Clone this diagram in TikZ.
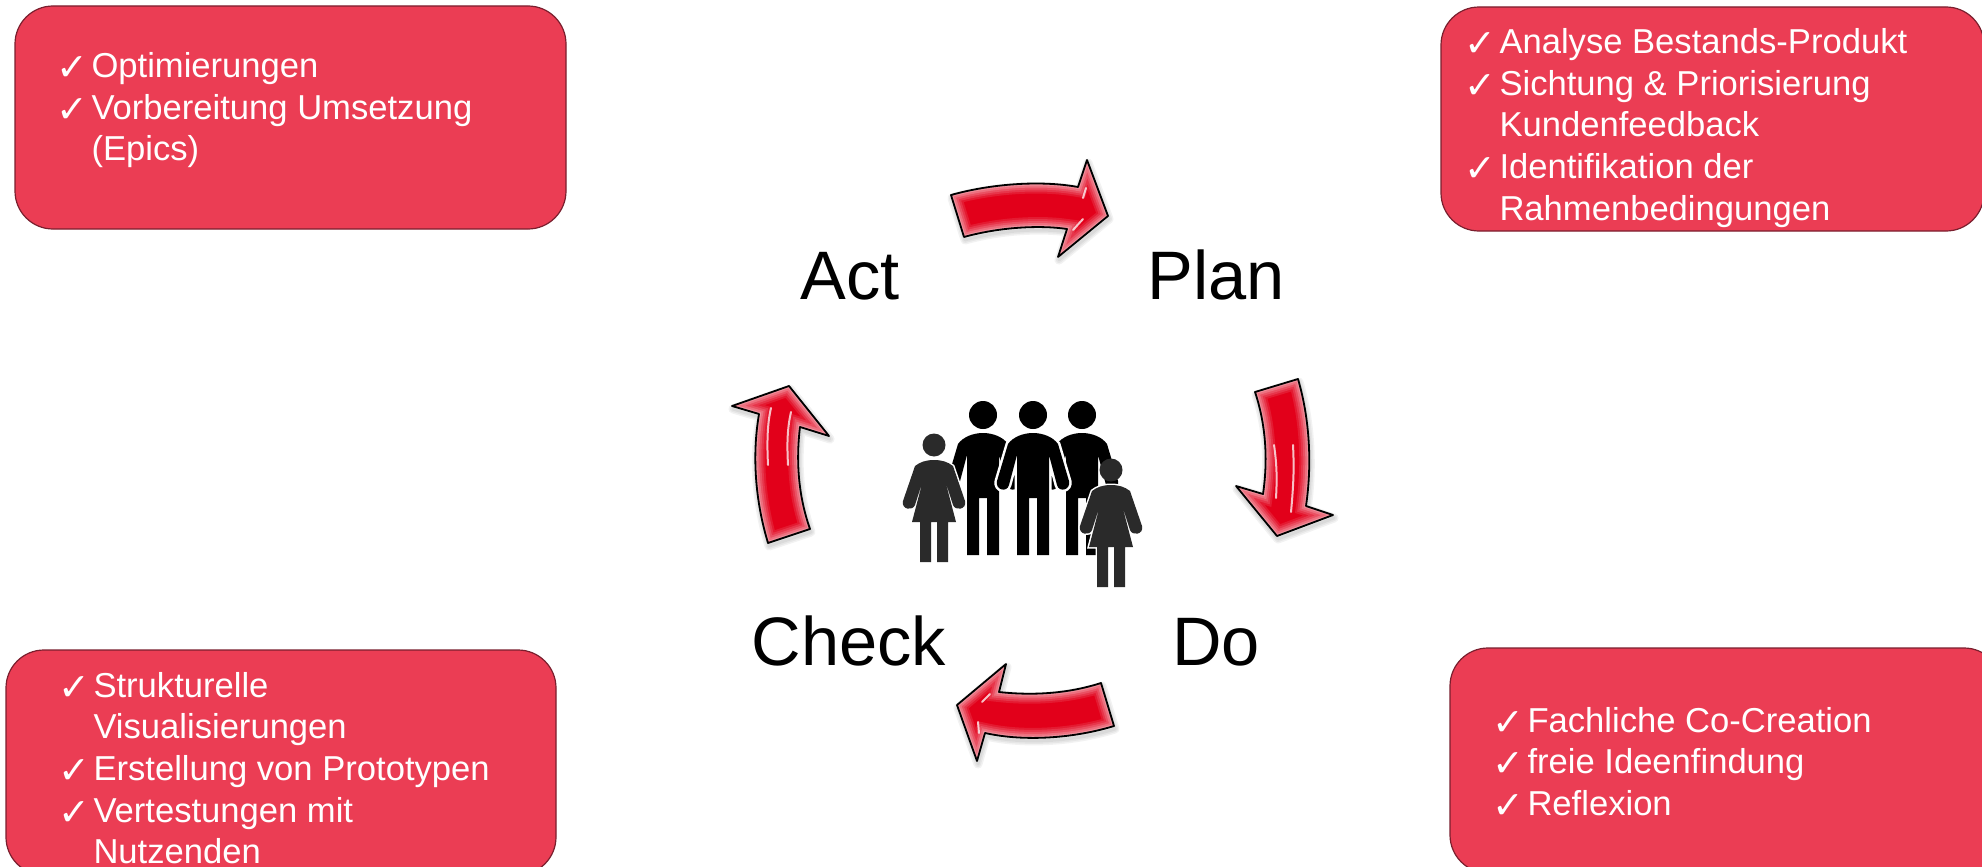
\documentclass[tikz,border=0pt]{standalone}
\usepackage{fontspec}
\setmainfont{Liberation Sans}
\newfontfamily\chkfont{DejaVu Sans}
\newcommand{\chkitem}[1]{\makebox[34.5pt][l]{\hspace*{-1pt}\smash{\raisebox{-3pt}{\chkfont\fontsize{38}{38}\selectfont ✓}}}#1}
\newcommand{\chkcont}[1]{\hspace*{34.5pt}#1}
\definecolor{boxred}{HTML}{EB3D54}
\definecolor{boxline}{HTML}{7A1F2E}
\definecolor{arrowred}{HTML}{E2001A}
\definecolor{womangray}{HTML}{2A2A2A}
\newcommand{\glossarrow}[2]{
  \foreach \w in {9,6,3} {
    \draw[black,opacity=.05,line width=\w pt,line join=round,shift={(1,3)}] #1;
  }
  \fill[arrowred] #1;
  \begin{scope}
    \clip #1;
    \foreach \w/\o in {20/.10,16/.12,12/.14,8/.18,4/.22} {
      \draw[white,opacity=\o,line width=\w pt] #1;
    }
    #2
  \end{scope}
  \draw[black,line width=1.8pt,line join=round] #1;
}
\tikzset{
  redbox/.style={draw=boxline,fill=boxred,line width=1.2pt,rounded corners=38pt,
    anchor=north west,inner sep=0pt,outer sep=0pt},
  boxtext/.style={anchor=north west,align=left,inner sep=0pt,outer sep=0pt,text=white,
    font=\fontsize{34.6}{41.7}\selectfont},
  phase/.style={anchor=base,inner sep=0pt,outer sep=0pt,font=\fontsize{68.6}{78}\selectfont},
  streak/.style={white,opacity=.75,line width=2pt,line cap=round},
  man/.pic={
    \fill (0,0) circle [radius=14];
    \fill[black,preaction={draw=white,line width=5pt}] (0,18) .. controls (10,18) and (20,22) .. (25,29)
      -- (36,66) .. controls (38,75) and (26,78) .. (24,70) -- (16,40) -- (16,140) -- (4,140)
      -- (4,83) -- (-4,83) -- (-4,140) -- (-16,140) -- (-16,40) -- (-24,70)
      .. controls (-26,78) and (-38,75) .. (-36,66) -- (-25,29)
      .. controls (-20,22) and (-10,18) .. (0,18) -- cycle;
  },
  woman/.pic={
    \fill[womangray,preaction={draw=white,line width=3pt}] (0,15) .. controls (8,15) and (14,17) .. (19,21)
      -- (31,56) .. controls (33,65) and (21,66) .. (19,60) -- (11,35) -- (22,77) -- (14,77) -- (14,117)
      -- (3,117) -- (3,77) -- (-3,77) -- (-3,117) -- (-14,117) -- (-14,77) -- (-22,77) -- (-11,35)
      -- (-19,60) .. controls (-21,66) and (-33,65) .. (-31,56) -- (-19,21)
      .. controls (-14,17) and (-8,15) .. (0,15) -- cycle;
    \fill[womangray] (0,0) circle [radius=11.5];
  },
}
\begin{document}
\begin{tikzpicture}[x=1pt,y=-1pt]
  \clip (0,0) rectangle (1982,867);
  % boxes
  \node[redbox,minimum width=551pt,minimum height=223pt] (actbox) at (15,6) {};
  \node[redbox,minimum width=543pt,minimum height=224pt] (planbox) at (1441,7) {};
  \node[redbox,minimum width=550pt,minimum height=225pt] (checkbox) at (6,650) {};
  \node[redbox,minimum width=552pt,minimum height=225pt] (dobox) at (1450,648) {};
  \node[boxtext] (acttext) at (57,52.5) {\chkitem{Optimierungen}\\\chkitem{Vorbereitung Umsetzung}\\\chkcont{(Epics)}};
  \node[boxtext] (plantext) at (1465,28.5) {\chkitem{Analyse Bestands-Produkt}\\\chkitem{Sichtung \& Priorisierung}\\\chkcont{Kundenfeedback}\\\chkitem{Identifikation der}\\\chkcont{Rahmenbedingungen}};
  \node[boxtext] (checktext) at (59,672) {\chkitem{Strukturelle}\\\chkcont{Visualisierungen}\\\chkitem{Erstellung von Prototypen}\\\chkitem{Vertestungen mit}\\\chkcont{Nutzenden}};
  \node[boxtext] (dotext) at (1493,707) {\chkitem{Fachliche Co-Creation}\\\chkitem{freie Ideenfindung}\\\chkitem{Reflexion}};
  % phases
  \node[phase] (act) at (850,299) {Act};
  \node[phase] (plan) at (1216,299) {Plan};
  \node[phase] (check) at (849,665) {Check};
  \node[phase] (do) at (1216,665) {Do};
  % arrows
  \glossarrow{(951,195) .. controls (990,184) and (1040,180) .. (1078,187) -- (1087,160) -- (1108,216)
    -- (1058,257) -- (1067,229) .. controls (1040,225) and (1000,227) .. (964,237) -- cycle}{
    \draw[streak] (1086,188) -- (1083,198);
    \draw[streak] (1083,219) -- (1073,230);
  }
  \glossarrow{(1255,392) -- (1298,379) .. controls (1310,420) and (1312,465) .. (1306,506) -- (1333,515)
    -- (1277,536) -- (1236,486) -- (1263,494) .. controls (1268,460) and (1266,425) .. (1255,392) -- cycle}{
    \draw[streak] (1274,445) .. controls (1277,465) and (1277,480) .. (1276,498);
    \draw[streak] (1293,445) .. controls (1294,465) and (1294,480) .. (1291,512);
  }
  \glossarrow{(1101,683) -- (1114,726) .. controls (1075,738) and (1025,742) .. (985,733) -- (977,761)
    -- (957,705) -- (1006,664) -- (999,692) .. controls (1035,696) and (1070,693) .. (1101,683) -- cycle}{
    \draw[streak] (990,694) -- (982,702);
    \draw[streak] (978,722) -- (979,733);
  }
  \glossarrow{(810,529) -- (768,543) .. controls (755,500) and (752,455) .. (759,414) -- (732,406)
    -- (789,386) -- (829,436) -- (800,427) .. controls (796,460) and (798,495) .. (810,529) -- cycle}{
    \draw[streak] (771,408) .. controls (767,425) and (767,445) .. (768,465);
    \draw[streak] (791,412) .. controls (787,430) and (787,445) .. (788,465);
  }
  % people
  \pic at (983,415) {man};
  \pic at (1082,415) {man};
  \pic at (1033,415) {man};
  \pic at (934,445) {woman};
  \pic at (1111,470) {woman};
\end{tikzpicture}
\end{document}
